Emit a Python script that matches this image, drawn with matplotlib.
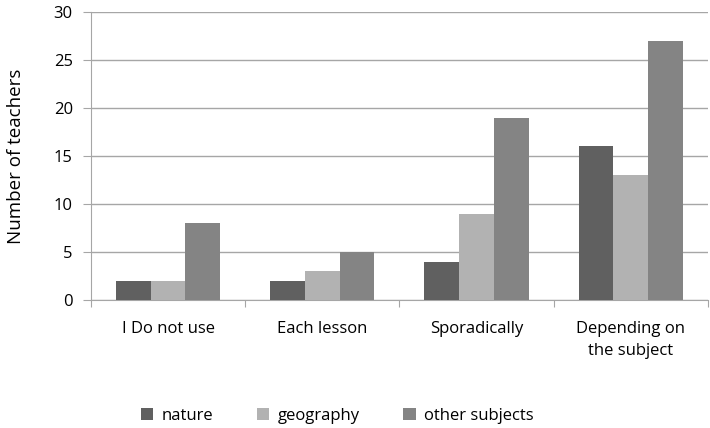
import numpy as np
import matplotlib.pyplot as plt

# survey data
categories = ['I Do not use', 'Each lesson', 'Sporadically', 'Depending on\nthe subject']
nature = [2, 2, 4, 16]
geography = [2, 3, 9, 13]
other_subjects = [8, 5, 19, 27]

series_names = ['nature', 'geography', 'other subjects']
series_colors = ['#606060', '#b2b2b2', '#848484']

plt.rcParams['font.family'] = ['Open Sans', 'DejaVu Sans']

fig = plt.figure(figsize=(7.1, 4.28), dpi=100)
ax = fig.add_axes([0.128, 0.299, 0.869, 0.673])

x = np.arange(len(categories))
w = 0.225
for i, (vals, name, col) in enumerate(zip([nature, geography, other_subjects], series_names, series_colors)):
    ax.bar(x + (i - 1) * w, vals, width=w, color=col, label=name, zorder=3)

ax.set_xlim(-0.5, len(categories) - 0.5)
ax.set_ylim(0, 30)
ax.set_yticks(range(0, 31, 5))
ax.yaxis.grid(True, color='#a6a6a6', linewidth=1, zorder=0)

# category boundary ticks, labels in between
ax.set_xticks(np.arange(len(categories) + 1) - 0.5)
ax.set_xticklabels([])
ax.set_xticks(x, minor=True)
ax.set_xticklabels(categories, minor=True, fontsize=12, linespacing=1.55)
ax.tick_params(axis='x', which='minor', length=0, pad=15)
ax.tick_params(axis='x', which='major', length=5, color='#a6a6a6')
ax.tick_params(axis='y', length=6, color='#a6a6a6', labelsize=12, pad=7)

for side in ['top', 'right']:
    ax.spines[side].set_visible(False)
for side in ['left', 'bottom']:
    ax.spines[side].set_color('#a6a6a6')

ax.set_ylabel('Number of teachers', fontsize=13.5, labelpad=21)

fig.legend(loc='lower center', bbox_to_anchor=(0.475, -0.025), ncol=3, frameon=False,
           fontsize=12, handlelength=0.75, handleheight=0.75, columnspacing=2.6, handletextpad=0.5)

fig.savefig('out.png', dpi=100)
